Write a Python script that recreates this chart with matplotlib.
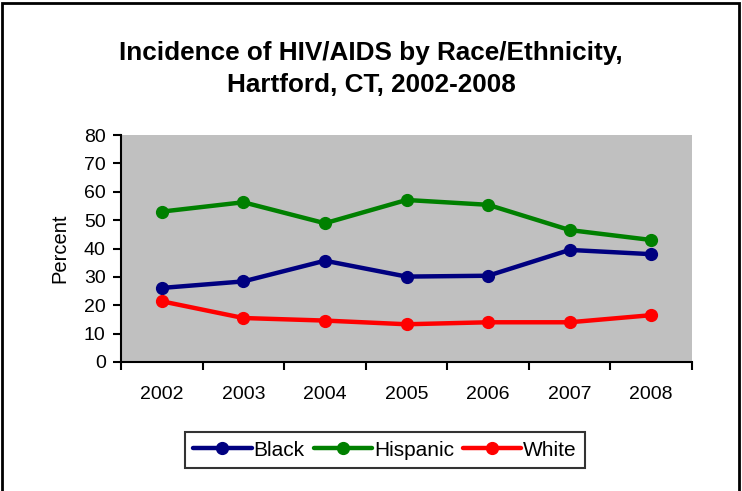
import matplotlib
matplotlib.use("Agg")
import matplotlib.pyplot as plt
from matplotlib.patches import Rectangle

years = ["2002", "2003", "2004", "2005", "2006", "2007", "2008"]
black = [26.1, 28.4, 35.7, 30.1, 30.4, 39.5, 38.0]
hispanic = [53.0, 56.3, 48.9, 57.1, 55.4, 46.5, 43.0]
white = [21.4, 15.5, 14.6, 13.3, 14.0, 14.0, 16.5]
series_names = ["Black", "Hispanic", "White"]
colors = ["#000080", "#008000", "#FF0000"]
yticks = [0, 10, 20, 30, 40, 50, 60, 70, 80]

plt.rcParams['font.family'] = ['Liberation Sans', 'DejaVu Sans']

fig = plt.figure(figsize=(7.42, 4.91), dpi=100)
ax = fig.add_axes([121/742, 1-362/491, 571/742, 227/491])
ax.set_facecolor("#C0C0C0")

x = list(range(len(years)))
for vals, name, c in zip([black, hispanic, white], series_names, colors):
    ax.plot(x, vals, color=c, lw=3.2, marker='o', ms=8.5, label=name,
            solid_capstyle='round', solid_joinstyle='round')

ax.set_xlim(-0.5, len(years) - 0.5)
ax.set_ylim(0, 80)
ax.set_yticks(yticks)
ax.set_yticklabels([str(v) for v in yticks], fontsize=14)
ax.set_xticks(x)
ax.set_xticklabels(years, fontsize=14)
ax.set_xticks([i - 0.5 for i in range(len(years) + 1)], minor=True)
ax.tick_params(axis='x', which='major', length=0, pad=17)
ax.tick_params(axis='x', which='minor', length=6, width=1.5, direction='out')
ax.tick_params(axis='y', length=6, width=1.5, direction='out', pad=5)
for s in ['top', 'right']:
    ax.spines[s].set_visible(False)
for s in ['left', 'bottom']:
    ax.spines[s].set_linewidth(1.5)
ax.set_ylabel("Percent", fontsize=14.5, va='center')
ax.yaxis.set_label_coords((60-121)/571, 0.5)

fig.text(0.5, 1-60/491, "Incidence of HIV/AIDS by Race/Ethnicity,",
         ha='center', va='baseline', fontsize=18.8, fontweight='bold')
fig.text(0.5, 1-91.7/491, "Hartford, CT, 2002-2008",
         ha='center', va='baseline', fontsize=18.8, fontweight='bold')

leg = fig.legend(loc='center', bbox_to_anchor=(385/742, 1-450/491), ncol=3,
                 fontsize=15, frameon=True, fancybox=False, handlelength=2.8,
                 handletextpad=0.08, columnspacing=0.45, borderpad=0.4,
                 borderaxespad=0, edgecolor='black')
leg.get_frame().set_linewidth(1.5)

fig.patches.append(Rectangle((2/742, -0.05), 737/742, 1.05 - 3/491, transform=fig.transFigure,
                             fill=False, edgecolor='black', lw=2))

fig.savefig("out.png", dpi=100)
